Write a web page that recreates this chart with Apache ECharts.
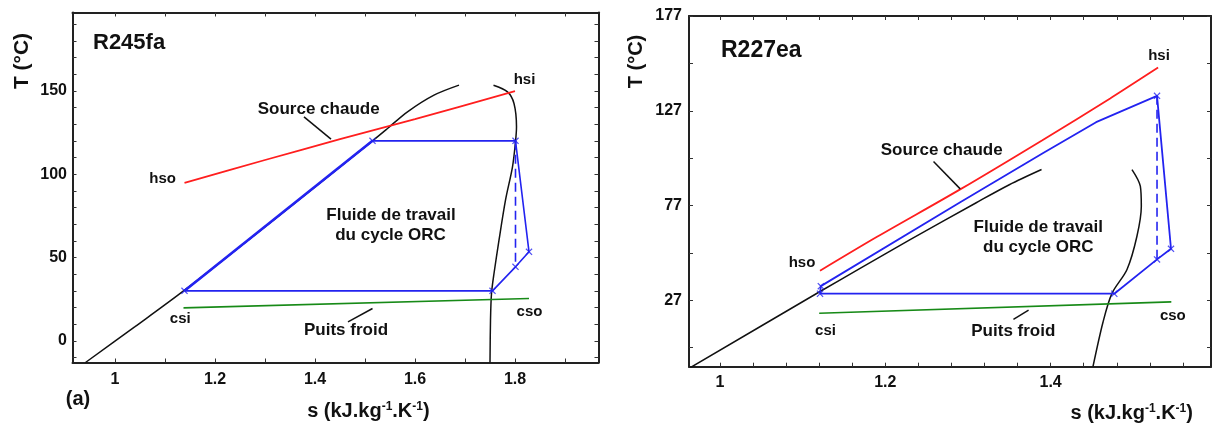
<!DOCTYPE html>
<html>
<head>
<meta charset="utf-8">
<script src="https://cdn.jsdelivr.net/npm/echarts@6/dist/echarts.min.js"></script>
<style>html,body{margin:0;padding:0;background:#fff}#c{width:1213px;height:428px}</style>
</head>
<body>
<div id="c"></div>
<script>
// ---------- DATA (s in kJ/kg/K, T in °C) ----------
// Left panel: R245fa
const leftLiquid = [[0.941,-13],[1.04,8.5],[1.139,30.4],[1.33,75.5],[1.515,120],[1.545,127.4],[1.585,137.4],[1.638,147.4],[1.688,153.4]];
const leftVapor = [[1.757,153.4],[1.785,149.4],[1.798,142.4],[1.803,128.4],[1.801,119.4],[1.795,104.4],[1.781,84.4],[1.768,60.4],[1.758,40.4],[1.753,28.4],[1.751,12.4],[1.750,-13]];
const leftHot = [[1.139,94.8],[1.30,108.5],[1.45,121],[1.60,133],[1.80,149.8]];
const leftCold = [[1.137,19.8],[1.828,25.4]];
const leftStates = [[1.139,30],[1.515,120],[1.801,120],[1.828,53.4],[1.801,44.4],[1.755,30]]; // A,B,C,D,F,E
const leftHotLeader = [[1.378,134.4],[1.432,121]];
const leftColdLeader = [[1.466,11.4],[1.515,19.4]];
const leftSTicks = [1.0,1.1,1.2,1.3,1.4,1.5,1.6,1.7,1.8,1.9];
const leftSLabels = [1,1.2,1.4,1.6,1.8];
const leftTTicks = [-10,0,10,20,30,40,50,60,70,80,90,100,110,120,130,140,150,160,170,180,190];
const leftTLabels = [0,50,100,150];

// Right panel: R227ea
const rightLiquid = [[0.964,-8.5],[1.120,31.4],[1.17,44],[1.23,59],[1.31,78.5],[1.35,88],[1.389,96]];
const rightVapor = [[1.4984,96],[1.5085,87.2],[1.5097,76.6],[1.5044,60.8],[1.4924,43.3],[1.4742,30.7],[1.4634,15.6],[1.4512,-8]];
const rightHot = [[1.121,42.6],[1.19,60.5],[1.29,85.4],[1.39,111.5],[1.472,133.5],[1.530,149.8]];
const rightCold = [[1.12,20.2],[1.546,26.2]];
const rightStates = [[1.121,30.5],[1.122,34.5],[1.5287,134.9],[1.5456,54.2],[1.5287,48.6],[1.477,30.5]]; // A,A',C,D,F,E
const rightHeating = [[1.2906,78.7],[1.391,104.7],[1.455,121]];
const rightHotLeader = [[1.2583,100.3],[1.2906,85.8]];
const rightColdLeader = [[1.3733,21.9],[1.355,17]];
const rightSTicks = [1.00,1.04,1.08,1.12,1.16,1.20,1.24,1.28,1.32,1.36,1.40,1.44,1.48,1.52,1.56];
const rightSLabels = [1,1.2,1.4];
const rightTTicks = [2,27,52,77,102,127,152,177];
const rightTLabels = [27,77,127,177];

// ---------- STYLE ----------
const FF = '"Liberation Sans", Arial, sans-serif';
const RED = '#ff1e1e', BLUE = '#2323f0', GREEN = '#178a17', BLACK = '#111';
const XMARK = 'path://M0,1.2L1.2,0L5,3.8L8.8,0L10,1.2L6.2,5L10,8.8L8.8,10L5,6.2L1.2,10L0,8.8L3.8,5Z';

function axis(gridIndex, position, min, max, ticks, labels, labelMargin) {
  return {
    type: 'value', gridIndex, position, min, max,
    splitLine: {show: false},
    axisLine: {show: true, onZero: false, lineStyle: {color: '#222', width: 2}},
    axisTick: {show: true, inside: true, length: 4, customValues: ticks, lineStyle: {color: '#333', width: 1}},
    axisLabel: labels ? {show: true, customValues: labels, margin: labelMargin,
      fontFamily: FF, fontWeight: 'bold', fontSize: 16, color: BLACK,
      formatter: v => String(+(+v).toFixed(2))} : {show: false}
  };
}

function line(xi, data, color, width, extra) {
  return Object.assign({
    type: 'line', xAxisIndex: xi, yAxisIndex: xi, data, showSymbol: false, symbol: 'none',
    lineStyle: {color, width}, silent: true, animation: false, z: 2
  }, extra || {});
}

function txt(x, y, text, size, align, rot) {
  const el = {
    type: 'text', x, y, z: 10,
    style: {text, font: `bold ${size}px ${FF}`, fill: BLACK,
      align: align || 'center', verticalAlign: 'middle',
      textAlign: align || 'center', textVerticalAlign: 'middle'}
  };
  if (rot) el.rotation = rot;
  return el;
}
function sTitle(x, y) {
  const el = txt(x, y, 's (kJ.kg{sup|-1}.K{sup|-1})', 20);
  el.style.rich = {sup: {font: `bold 12px ${FF}`, fill: BLACK, verticalAlign: 'top', padding: [0, 0, 8, 0]}};
  return el;
}

const lCycle = [...leftStates, leftStates[0]];
const rs = rightStates;
const rCycle = [rs[0], rs[1], ...rightHeating, rs[2], rs[3], rs[4], rs[5], rs[0]];

const option = {
  animation: false,
  backgroundColor: '#fff',
  textStyle: {fontFamily: FF},
  grid: [
    {left: 72.5, top: 12.5, width: 526, height: 350, outerBoundsMode: 'none', containLabel: false},
    {left: 689, top: 16, width: 522, height: 350.7, outerBoundsMode: 'none', containLabel: false}
  ],
  xAxis: [
    axis(0, 'bottom', 0.915, 1.967, leftSTicks, leftSLabels, 9),
    axis(1, 'bottom', 0.9625, 1.594, rightSTicks, rightSLabels, 8),
    axis(0, 'top', 0.915, 1.967, leftSTicks, null),
    axis(1, 'top', 0.9625, 1.594, rightSTicks, null)
  ],
  yAxis: [
    axis(0, 'left', -13, 197, leftTTicks, leftTLabels, 5.5),
    axis(1, 'left', -8, 177, rightTTicks, rightTLabels, 7),
    axis(0, 'right', -13, 197, leftTTicks, null),
    axis(1, 'right', -8, 177, rightTTicks, null)
  ],
  series: [
    line(0, leftLiquid, BLACK, 1.5, {smooth: 0.3}),
    line(0, leftVapor, BLACK, 1.5, {smooth: 0.3}),
    line(0, leftHot, RED, 1.8, {smooth: 0.3}),
    line(0, leftCold, GREEN, 1.6),
    line(0, lCycle, BLUE, 1.6),
    line(0, leftStates.slice(0, 2), BLUE, 2.6),
    line(0, [leftStates[2], leftStates[4]], BLUE, 1.6, {lineStyle: {color: BLUE, width: 1.6, type: [9, 5]}}),
    line(0, leftHotLeader, BLACK, 1.5),
    line(0, leftColdLeader, BLACK, 1.5),
    {type: 'scatter', xAxisIndex: 0, yAxisIndex: 0, data: leftStates, symbol: XMARK, symbolSize: 7,
      itemStyle: {color: BLUE}, silent: true, z: 3},

    line(1, rightLiquid, BLACK, 1.5, {smooth: 0.3}),
    line(1, rightVapor, BLACK, 1.5, {smooth: 0.3}),
    line(1, rightHot, RED, 1.8, {smooth: 0.3}),
    line(1, rightCold, GREEN, 1.6),
    line(1, rCycle, BLUE, 1.8),
    line(1, [rs[2], rs[4]], BLUE, 1.6, {lineStyle: {color: BLUE, width: 1.6, type: [9, 5]}}),
    line(1, rightHotLeader, BLACK, 1.5),
    line(1, rightColdLeader, BLACK, 1.5),
    {type: 'scatter', xAxisIndex: 1, yAxisIndex: 1, data: rightStates, symbol: XMARK, symbolSize: 7,
      itemStyle: {color: BLUE}, silent: true, z: 3}
  ],
  graphic: [
    txt(93, 43, 'R245fa', 22, 'left'),
    txt(318.7, 109, 'Source chaude', 17),
    txt(162.6, 179, 'hso', 15),
    txt(524.5, 80, 'hsi', 15),
    txt(391, 215.5, 'Fluide de travail', 17),
    txt(390.5, 235, 'du cycle ORC', 17),
    txt(180.3, 319, 'csi', 15),
    txt(529.5, 312, 'cso', 15),
    txt(346, 330, 'Puits froid', 17),
    txt(78, 399, '(a)', 20),
    sTitle(368.4, 411),
    txt(22, 61, 'T (°C)', 21, 'center', Math.PI / 2),

    txt(721, 50.3, 'R227ea', 23, 'left'),
    txt(636, 61.5, 'T (°C)', 20, 'center', Math.PI / 2),
    txt(1159, 56, 'hsi', 15),
    txt(941.7, 150, 'Source chaude', 17),
    txt(1038.3, 227.5, 'Fluide de travail', 17),
    txt(1038.3, 247.5, 'du cycle ORC', 17),
    txt(802, 262.5, 'hso', 15),
    txt(825.5, 331, 'csi', 15),
    txt(1172.8, 316, 'cso', 15),
    txt(1013.3, 331.5, 'Puits froid', 17),
    sTitle(1131.7, 413)
  ]
};

const chart = echarts.init(document.getElementById('c'), null, {renderer: 'canvas'});
chart.setOption(option);
</script>
</body>
</html>
